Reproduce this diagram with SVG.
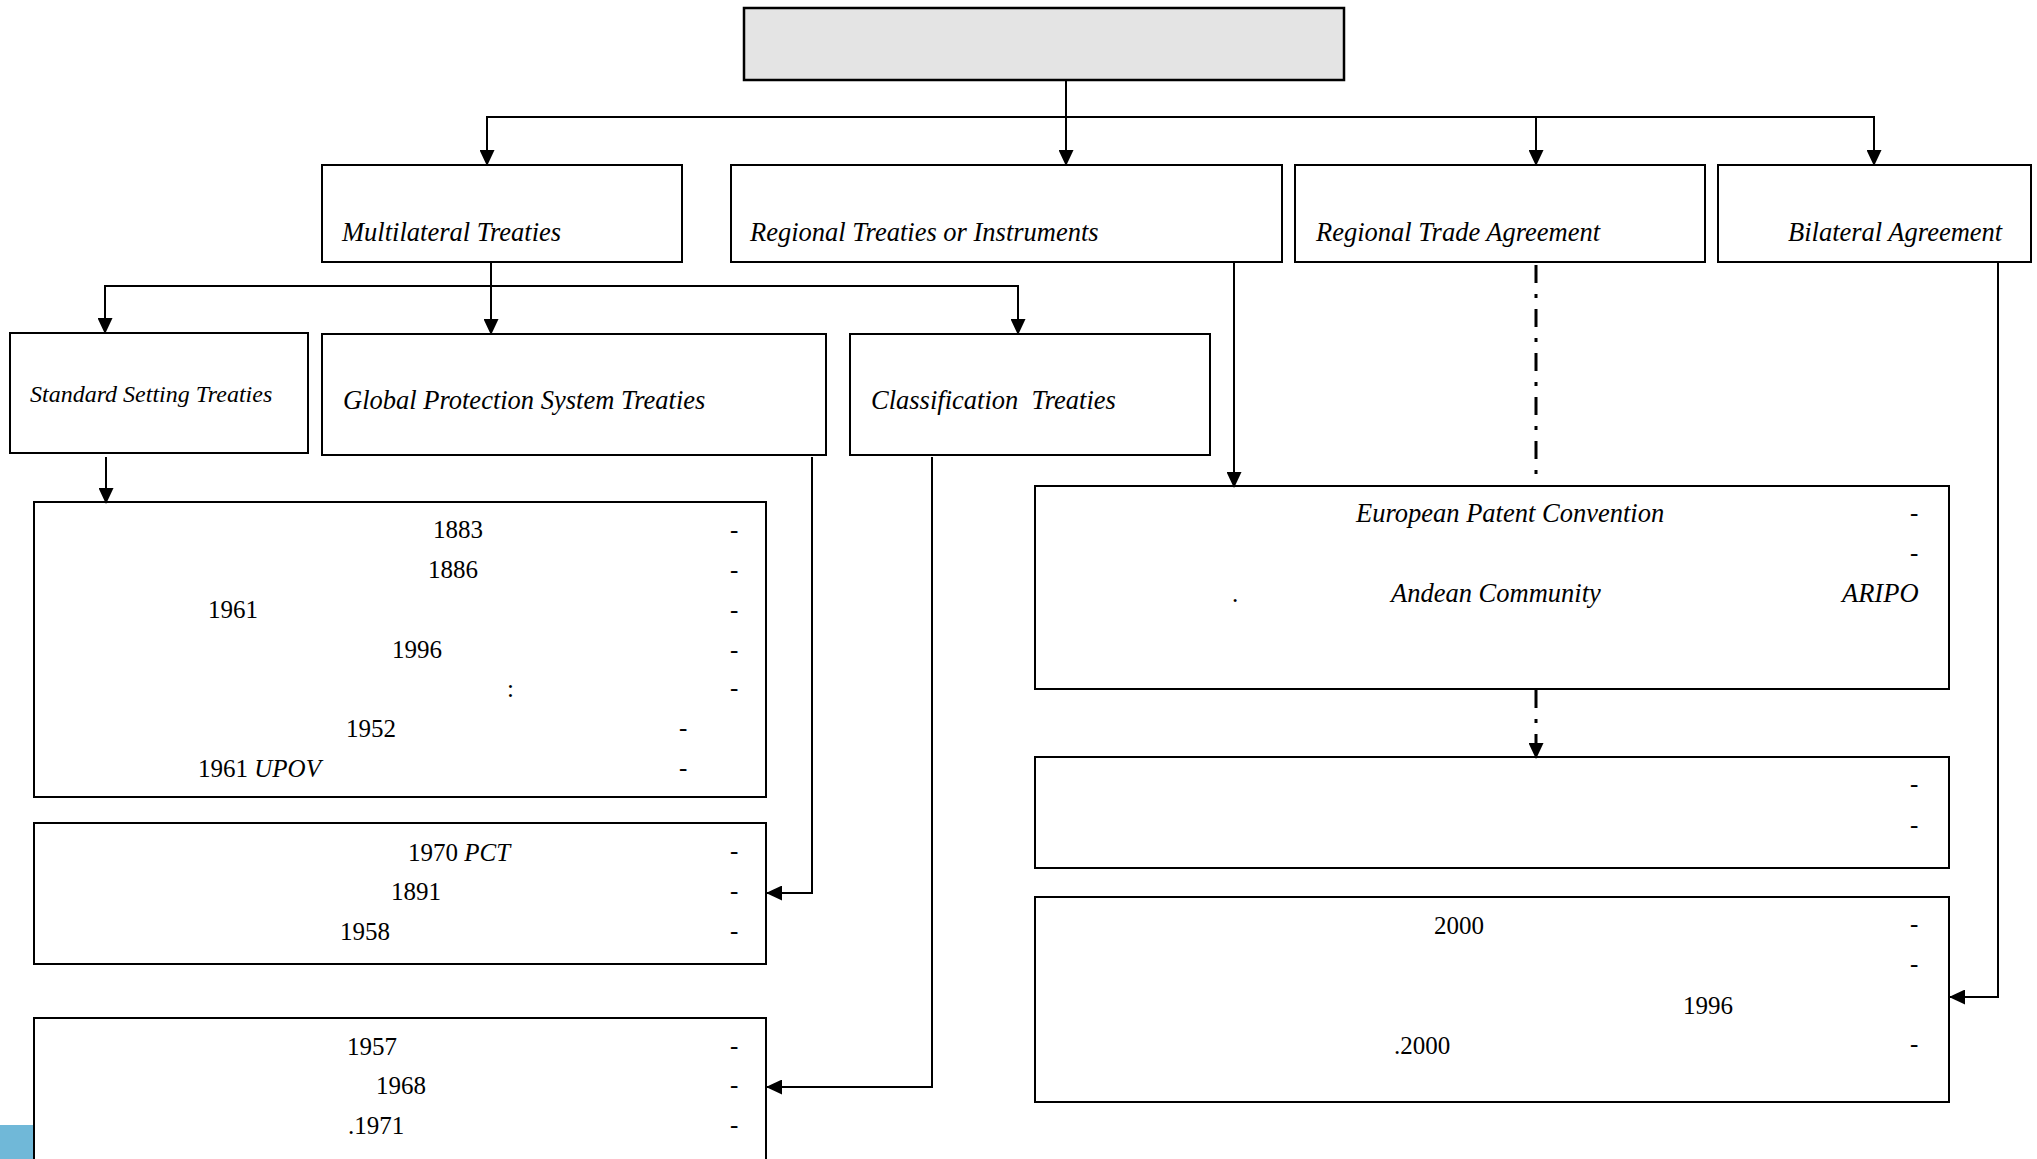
<svg xmlns="http://www.w3.org/2000/svg" width="2037" height="1159" viewBox="0 0 2037 1159">
<defs>
<marker id="ah" markerUnits="userSpaceOnUse" markerWidth="16" markerHeight="15" refX="15" refY="7.5" orient="auto">
<path d="M0,0 L16,7.5 L0,15 z" fill="#000"/>
</marker>
</defs>
<style>
.box{fill:#fff;stroke:#000;stroke-width:2}
.top{fill:#e4e4e4;stroke:#000;stroke-width:2.5}
.lbl{font-family:"Liberation Serif","Times New Roman",serif;font-style:italic;font-size:26.5px;fill:#000}
.sm{font-size:24px}
.t{font-family:"Liberation Serif","Times New Roman",serif;font-size:25px;fill:#000}
.it{font-style:italic}
.c{fill:none;stroke:#000;stroke-width:2}
.dd{fill:none;stroke:#000;stroke-width:3;stroke-dasharray:18 11 4 11}
</style>
<rect x="0" y="1125" width="34" height="34" fill="#70b8d8"/>
<g id="root"><rect class="top" x="744" y="8" width="600" height="72"/></g>
<g id="multilateral"><rect class="box" x="322" y="165" width="360" height="97"/><text class="lbl" x="342" y="241">Multilateral Treaties</text></g>
<g id="regional-treaties"><rect class="box" x="731" y="165" width="551" height="97"/><text class="lbl" x="750" y="241">Regional Treaties or Instruments</text></g>
<g id="regional-trade"><rect class="box" x="1295" y="165" width="410" height="97"/><text class="lbl" x="1316" y="241">Regional Trade Agreement</text></g>
<g id="bilateral"><rect class="box" x="1718" y="165" width="313" height="97"/><text class="lbl" x="1788" y="241">Bilateral Agreement</text></g>
<g id="standard"><rect class="box" x="10" y="333" width="298" height="120"/><text class="lbl sm" x="30" y="402">Standard Setting Treaties</text></g>
<g id="global"><rect class="box" x="322" y="334" width="504" height="121"/><text class="lbl" x="343" y="409">Global Protection System Treaties</text></g>
<g id="classification"><rect class="box" x="850" y="334" width="360" height="121"/><text class="lbl" x="871" y="409" xml:space="preserve">Classification  Treaties</text></g>
<g id="standard-list"><rect class="box" x="34" y="502" width="732" height="295"/>
<text class="t" x="433" y="538">1883</text><text class="t" x="730" y="538">-</text>
<text class="t" x="428" y="578">1886</text><text class="t" x="730" y="578">-</text>
<text class="t" x="208" y="618">1961</text><text class="t" x="730" y="618">-</text>
<text class="t" x="392" y="658">1996</text><text class="t" x="730" y="658">-</text>
<text class="t" x="507" y="697">:</text><text class="t" x="730" y="696">-</text>
<text class="t" x="346" y="737">1952</text><text class="t" x="679" y="736">-</text>
<text class="t" x="198" y="777">1961 <tspan class="it">UPOV</tspan></text><text class="t" x="679" y="776">-</text>
</g>
<g id="global-list"><rect class="box" x="34" y="823" width="732" height="141"/>
<text class="t" x="408" y="861">1970 <tspan class="it">PCT</tspan></text><text class="t" x="730" y="859">-</text>
<text class="t" x="391" y="900">1891</text><text class="t" x="730" y="899">-</text>
<text class="t" x="340" y="940">1958</text><text class="t" x="730" y="939">-</text>
</g>
<g id="classification-list"><rect class="box" x="34" y="1018" width="732" height="160"/>
<text class="t" x="347" y="1055">1957</text><text class="t" x="730" y="1054">-</text>
<text class="t" x="376" y="1094">1968</text><text class="t" x="730" y="1093">-</text>
<text class="t" x="348" y="1134">.1971</text><text class="t" x="730" y="1133">-</text>
</g>
<g id="regional-list"><rect class="box" x="1035" y="486" width="914" height="203"/>
<text class="lbl" x="1356" y="522">European Patent Convention</text><text class="t" x="1910" y="521">-</text>
<text class="t" x="1910" y="561">-</text>
<text class="t" x="1232" y="602">.</text>
<text class="lbl" x="1391" y="602">Andean Community</text>
<text class="lbl" x="1842" y="602">ARIPO</text>
</g>
<g id="trade-list"><rect class="box" x="1035" y="757" width="914" height="111"/>
<text class="t" x="1910" y="792">-</text><text class="t" x="1910" y="833">-</text>
</g>
<g id="bilateral-list"><rect class="box" x="1035" y="897" width="914" height="205"/>
<text class="t" x="1434" y="934">2000</text><text class="t" x="1910" y="932">-</text>
<text class="t" x="1910" y="972">-</text>
<text class="t" x="1683" y="1014">1996</text>
<text class="t" x="1394" y="1054">.2000</text><text class="t" x="1910" y="1052">-</text>
</g>
<g id="connectors">
<line class="c" x1="1066" y1="80" x2="1066" y2="165" marker-end="url(#ah)"/>
<line class="c" x1="487" y1="117" x2="1874" y2="117"/>
<line class="c" x1="487" y1="116" x2="487" y2="165" marker-end="url(#ah)"/>
<line class="c" x1="1536" y1="117" x2="1536" y2="165" marker-end="url(#ah)"/>
<line class="c" x1="1874" y1="116" x2="1874" y2="165" marker-end="url(#ah)"/>
<line class="c" x1="491" y1="262" x2="491" y2="334" marker-end="url(#ah)"/>
<line class="c" x1="105" y1="286" x2="1018" y2="286"/>
<line class="c" x1="105" y1="285" x2="105" y2="333" marker-end="url(#ah)"/>
<line class="c" x1="1018" y1="285" x2="1018" y2="334" marker-end="url(#ah)"/>
<line class="c" x1="106" y1="457" x2="106" y2="503" marker-end="url(#ah)"/>
<polyline class="c" points="812,457 812,893 767,893" marker-end="url(#ah)"/>
<polyline class="c" points="932,457 932,1087 767,1087" marker-end="url(#ah)"/>
<line class="c" x1="1234" y1="262" x2="1234" y2="487" marker-end="url(#ah)"/>
<line class="dd" x1="1536" y1="265" x2="1536" y2="474"/>
<line class="dd" x1="1536" y1="690" x2="1536" y2="744"/>
<line class="c" x1="1536" y1="740" x2="1536" y2="758" marker-end="url(#ah)"/>
<polyline class="c" points="1998,262 1998,997 1950,997" marker-end="url(#ah)"/>
</g>
</svg>
